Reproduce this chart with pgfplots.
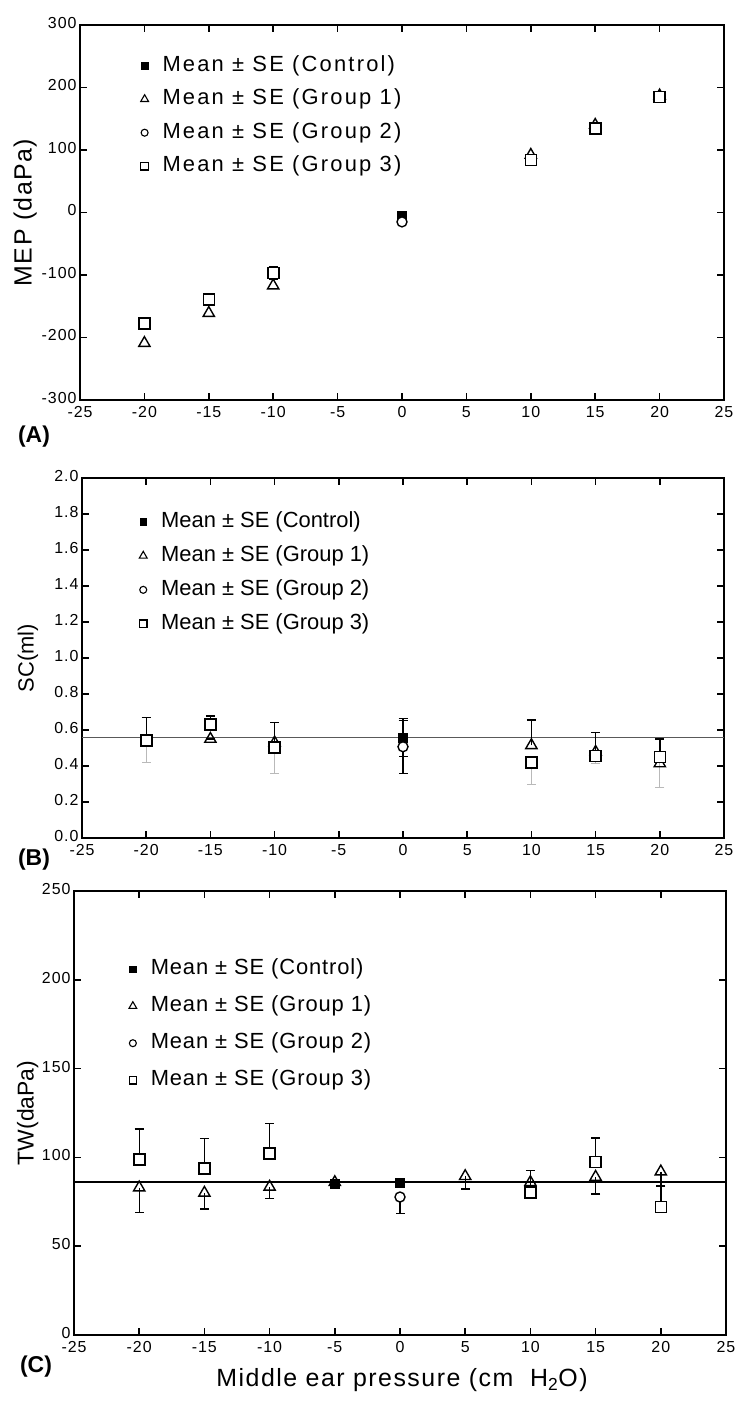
\documentclass[border=0pt]{standalone}
\usepackage{fontspec}
\setmainfont{Liberation Sans}
\usepackage{pgfplots}
\pgfplotsset{compat=1.18}

\pgfplotsset{
  base/.style={
    scale only axis,
    xmin=-25, xmax=25, xtick={-25,-20,...,25},
    tick align=inside, tick pos=both,
    major tick length=7bp,
    axis line style={line width=2bp},
    every tick/.style={line width=1.6bp, black},
    tick label style={font=\fontsize{16}{16}\selectfont\addfontfeature{LetterSpace=6}},
    xticklabel style={yshift=-3bp},
    yticklabel style={yshift=2bp},
    /pgf/number format/assume math mode=true,
    legend cell align=left,
    legend style={draw=none, fill=none, inner sep=0bp, column sep=14bp,
      nodes={inner sep=0bp, text height=16bp, text depth=5bp}},
    error bars/error mark options={rotate=90, mark size=4.5bp, line width=1.4bp},
    error bars/error bar style={line width=1.4bp, black},
  },
  ctrl/.style={only marks, mark=square*, mark size=4.5bp, mark options={fill=black, draw=black, line width=1bp},
    legend image code/.code={\draw[mark=square*, mark size=3.2bp, mark options={fill=black}] plot coordinates {(0bp,0bp)};}},
  g1/.style={only marks, mark=triangle, mark size=6.5bp, mark options={fill=white, draw=black, line width=1.4bp},
    legend image code/.code={\draw[mark=triangle, mark size=4.5bp, mark options={fill=white, line width=1.1bp}] plot coordinates {(0bp,0bp)};}},
  g2/.style={only marks, mark=*, mark size=5bp, mark options={fill=white, draw=black, line width=1.4bp},
    legend image code/.code={\draw[mark=*, mark size=3.5bp, mark options={fill=white, line width=1.1bp}] plot coordinates {(0bp,0bp)};}},
  g3/.style={only marks, mark=square*, mark size=5.5bp, mark options={fill=white, draw=black, line width=1.6bp},
    legend image code/.code={\draw[mark=square*, mark size=3.8bp, mark options={fill=white, line width=1.1bp}] plot coordinates {(0bp,0bp)};}},
  grayb/.style={forget plot, draw=none, mark=none,
    error bars/.cd, y dir=minus, y explicit,
    error bar style={draw=gray!55, line width=1bp},
    error mark options={rotate=90, mark size=4.5bp, draw=gray!55, line width=1bp}},
}

\begin{document}
\begin{tikzpicture}
\useasboundingbox (0,0) rectangle (750bp,-1402bp);

% ---------------- Panel A ----------------
\begin{axis}[base, at={(80bp,-400bp)}, anchor=south west, width=644bp, height=375bp,
  ymin=-300, ymax=300, ytick={-300,-200,...,300},
  ylabel={MEP (daPa)},
  ylabel style={at={(axis description cs:-0.085,0.5)}, anchor=center,
    font=\fontsize{25}{25}\selectfont\addfontfeature{LetterSpace=6}},
  legend style={at={(axis description cs:0.094,0.92)}, anchor=north west, row sep=12.5bp,
    font=\fontsize{22}{22}\selectfont\addfontfeature{LetterSpace=10}},
]
\addplot[ctrl, error bars/.cd, y dir=both, y explicit] coordinates {(0,-6) +- (0,4)};
\addlegendentry{Mean ± SE (Control)}
\addplot[g1] coordinates {(-20,-209) (-15,-161) (-10,-117) (10,92) (15,140) (20,187)};
\addlegendentry{Mean ± SE (Group 1)}
\addplot[g2] coordinates {(0,-15)};
\addlegendentry{Mean ± SE (Group 2)}
\addplot[g3, error bars/.cd, y dir=both, y explicit] coordinates {
  (-20,-178) +- (0,7) (-15,-139) +- (0,5) (-10,-97) +- (0,10)
  (10,84) +- (0,3) (15,134) +- (0,5) (20,185) +- (0,3)};
\addlegendentry{Mean ± SE (Group 3)}
\end{axis}

% ---------------- Panel B ----------------
\begin{axis}[base, at={(82bp,-838bp)}, anchor=south west, width=642bp, height=360bp,
  ymin=0, ymax=2, ytick={0,0.2,...,2.01},
  yticklabel style={/pgf/number format/.cd, fixed, fixed zerofill, precision=1},
  ylabel={SC(ml)},
  ylabel style={at={(axis description cs:-0.084,0.5)}, anchor=center,
    font=\fontsize{22}{22}\selectfont},
  legend style={at={(axis description cs:0.089,0.908)}, anchor=north west, row sep=13bp,
    font=\fontsize{22}{22}\selectfont},
]
\addplot[forget plot, gray!70!black, line width=1.2bp] coordinates {(-25,0.56) (25,0.56)};
\addplot[grayb] coordinates {(-20,0.542) -= (0,0.125) (-10,0.503) -= (0,0.145)
  (10,0.419) -= (0,0.12) (15,0.456) -= (0,0.044) (20,0.449) -= (0,0.171)};
\addplot[ctrl, error bars/.cd, y dir=both, y explicit] coordinates {(0,0.554) +- (0,0.1)};
\addlegendentry{Mean ± SE (Control)}
\addplot[g1, error bars/.cd, y dir=plus, y explicit] coordinates {
  (-15,0.55) +- (0,0) (-10,0.53) +- (0,0.112) (10,0.515) +- (0,0.141)
  (15,0.478) +- (0,0.108) (20,0.414) +- (0,0.136)};
\addlegendentry{Mean ± SE (Group 1)}
\addplot[g2, error bars/.cd, y dir=both, y explicit] coordinates {(0,0.507) += (0,0.157) -= (0,0.147)};
\addlegendentry{Mean ± SE (Group 2)}
\addplot[g3, error bars/.cd, y dir=plus, y explicit] coordinates {
  (-20,0.542) +- (0,0.126) (-15,0.63) +- (0,0.048) (-10,0.503) +- (0,0)
  (10,0.419) +- (0,0) (15,0.456) +- (0,0) (20,0.449) +- (0,0)};
\addlegendentry{Mean ± SE (Group 3)}
\end{axis}

% ---------------- Panel C ----------------
\begin{axis}[base, at={(74bp,-1335bp)}, anchor=south west, width=652bp, height=444bp,
  ymin=0, ymax=250, ytick={0,50,...,250},
  ylabel={TW(daPa)},
  ylabel style={at={(axis description cs:-0.071,0.5)}, anchor=center,
    font=\fontsize{23}{23}\selectfont},
  legend style={at={(axis description cs:0.084,0.848)}, anchor=north west, row sep=16bp,
    font=\fontsize{22}{22}\selectfont\addfontfeature{LetterSpace=4}},
]
\addplot[forget plot, black, line width=2bp] coordinates {(-25,86) (25,86)};
\addplot[ctrl] coordinates {(-5,85) (0,85.5)};
\addlegendentry{Mean ± SE (Control)}
\addplot[g1, error bars/.cd, y dir=minus, y explicit] coordinates {
  (-20,83) +- (0,14) (-15,80) +- (0,9) (-10,83.4) +- (0,6.4) (-5,86) +- (0,0)
  (5,89.4) +- (0,7.1) (10,86) +- (0,0) (15,89) +- (0,9.5) (20,92) +- (0,8)};
\addlegendentry{Mean ± SE (Group 1)}
\addplot[g2, error bars/.cd, y dir=minus, y explicit] coordinates {(0,77.7) +- (0,9.2)};
\addlegendentry{Mean ± SE (Group 2)}
\addplot[g3, error bars/.cd, y dir=plus, y explicit] coordinates {
  (-20,98.9) +- (0,17) (-15,93.6) +- (0,17) (-10,102.3) +- (0,16.7)
  (10,80.4) +- (0,12.4) (15,97.4) +- (0,13.6) (20,72) +- (0,12)};
\addlegendentry{Mean ± SE (Group 3)}
\end{axis}

\node[font=\bfseries\fontsize{23}{23}\selectfont] at (34bp,-437bp) {(A)};
\node[font=\bfseries\fontsize{23}{23}\selectfont] at (34bp,-860bp) {(B)};
\node[font=\bfseries\fontsize{23}{23}\selectfont] at (36bp,-1367bp) {(C)};
\node[font=\fontsize{25}{25}\selectfont\addfontfeature{LetterSpace=6}] at (402bp,-1380bp) {Middle ear pressure (cm~ H\textsubscript{2}O)};
\end{tikzpicture}
\end{document}
